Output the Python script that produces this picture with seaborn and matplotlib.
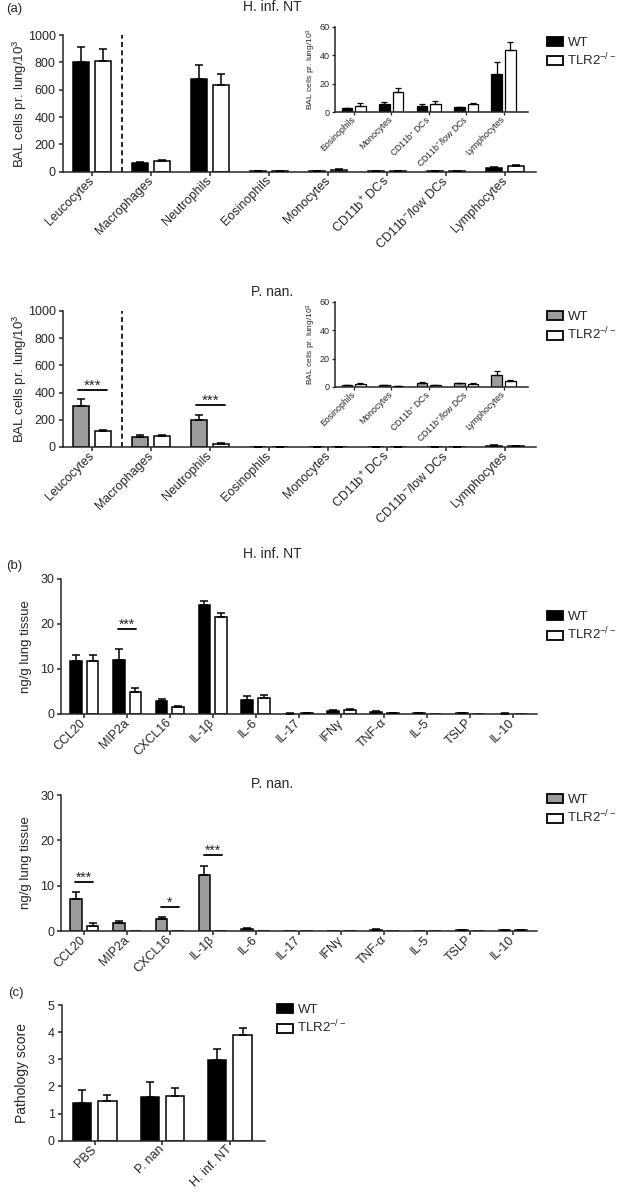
import numpy as np
import pandas as pd
import matplotlib
matplotlib.use('Agg')
import matplotlib.pyplot as plt
import seaborn as sns
from matplotlib.patches import Patch

sns.set_style('ticks')
plt.rcParams['font.family'] = ['Liberation Sans', 'DejaVu Sans']
plt.rcParams['mathtext.fontset'] = 'custom'
plt.rcParams['mathtext.rm'] = 'Liberation Sans'
plt.rcParams['mathtext.it'] = 'Liberation Sans:italic'
plt.rcParams['mathtext.bf'] = 'Liberation Sans:bold'
plt.rcParams['axes.linewidth'] = 1.1

# ---------------- data ----------------
bal_cells = ['Leucocytes', 'Macrophages', 'Neutrophils', 'Eosinophils', 'Monocytes',
             'CD11b$^{+}$ DCs', 'CD11b$^{-}$/low DCs', 'Lymphocytes']
hinf_bal_wt = [805, 65, 680, 2.5, 6.0, 4.5, 3.2, 27.0]
hinf_bal_wt_sem = [110, 7, 100, 0.5, 0.8, 1.0, 0.5, 8.5]
hinf_bal_ko = [810, 80, 635, 4.5, 14.0, 6.0, 5.4, 43.5]
hinf_bal_ko_sem = [88, 8, 80, 2.2, 2.8, 2.0, 0.7, 6.0]
pnan_bal_wt = [305, 75, 200, 1.2, 1.4, 2.8, 2.6, 8.4]
pnan_bal_wt_sem = [47, 10, 37, 0.3, 0.3, 0.6, 0.4, 3.0]
pnan_bal_ko = [120, 78, 25, 2.1, 0.7, 1.2, 2.3, 4.2]
pnan_bal_ko_sem = [8, 9, 6, 0.6, 0.2, 0.2, 0.5, 0.7]

cytokines = ['CCL20', 'MIP2a', 'CXCL16', 'IL-1β', 'IL-6', 'IL-17', 'IFNγ', 'TNF-α',
             'IL-5', 'TSLP', 'IL-10']
hinf_cyt_wt = [11.7, 12.1, 2.8, 24.3, 3.2, 0.1, 0.7, 0.5, 0.15, 0.15, 0.1]
hinf_cyt_wt_sem = [1.4, 2.4, 0.5, 0.8, 0.8, 0.05, 0.2, 0.15, 0.05, 0.05, 0.05]
hinf_cyt_ko = [11.8, 5.0, 1.5, 21.5, 3.6, 0.2, 1.0, 0.25, 0.03, 0.03, 0.05]
hinf_cyt_ko_sem = [1.3, 0.8, 0.3, 0.9, 0.6, 0.05, 0.2, 0.05, 0, 0, 0]
pnan_cyt_wt = [7.0, 1.8, 2.7, 12.4, 0.5, 0.1, 0.05, 0.3, 0.05, 0.2, 0.15]
pnan_cyt_wt_sem = [1.5, 0.3, 0.3, 2.0, 0.1, 0, 0, 0.1, 0, 0.05, 0.05]
pnan_cyt_ko = [1.2, 0, 0, 0, 0.05, 0, 0, 0, 0, 0, 0.2]
pnan_cyt_ko_sem = [0.6, 0, 0, 0, 0, 0, 0, 0, 0, 0, 0.05]

groups = ['PBS', 'P. nan', 'H. inf. NT']
path_wt = [1.40, 1.60, 2.97]
path_wt_sem = [0.46, 0.56, 0.42]
path_ko = [1.46, 1.66, 3.89]
path_ko_sem = [0.22, 0.27, 0.27]

genotypes = ['WT', 'TLR2']
legend_labels = ['WT', 'TLR2$^{-/-}$']
GRAY = '#9c9c9c'

# ---------------- layout ----------------
W, H = 620, 1197
fig = plt.figure(figsize=(W / 100, H / 100), dpi=100)


def add_ax(l, t, r, b):
    return fig.add_axes([l / W, 1 - b / H, (r - l) / W, (b - t) / H])


def bar_panel(ax, cats, wt, wt_e, ko, ko_e, wt_color, width, gap, lw=1.1, cap=3.2):
    df = pd.DataFrame({'cat': list(cats) * 2,
                       'geno': ['WT'] * len(cats) + ['TLR2'] * len(cats),
                       'val': list(wt) + list(ko)})
    sns.barplot(data=df, x='cat', y='val', hue='geno', order=list(cats), hue_order=genotypes,
                palette={'WT': wt_color, 'TLR2': 'white'}, edgecolor='black', linewidth=lw,
                width=width, gap=gap, errorbar=None, legend=False, saturation=1, ax=ax)
    conts = list(ax.containers[:2])
    for cont, errs in zip(conts, [wt_e, ko_e]):
        for bar, e in zip(cont, errs):
            if e > 0:
                x = bar.get_x() + bar.get_width() / 2
                ax.errorbar([x], [bar.get_height()], yerr=[[0], [e]], fmt='none',
                            ecolor='black', elinewidth=lw, capsize=cap, capthick=lw, zorder=3)
    ax.set_xlabel('')
    ax.set_ylabel('')
    sns.despine(ax=ax)


def style_ax(ax, fs=9, xfs=9, rot=45, length=3, width=1.1, pad=2):
    ax.tick_params(axis='both', direction='out', length=length, width=width, pad=pad)
    ax.tick_params(axis='y', labelsize=fs)
    ax.tick_params(axis='x', labelsize=xfs)
    for lab in ax.get_xticklabels():
        lab.set_rotation(rot)
        lab.set_ha('right')
        lab.set_va('center')
        lab.set_rotation_mode('anchor')


def sig(ax, x, y, s, half=0.22, fs=11):
    ax.plot([x - half, x + half], [y, y], color='black', lw=1.3)
    ax.text(x, y, s, ha='center', va='baseline', fontsize=fs)


def legend(x, y, color, fs=9.5):
    handles = [Patch(facecolor=color, edgecolor='black', linewidth=1.3),
               Patch(facecolor='white', edgecolor='black', linewidth=1.3)]
    fig.legend(handles=handles, labels=legend_labels, loc='center left',
               bbox_to_anchor=(x / W, 1 - y / H), frameon=False, fontsize=fs,
               handlelength=1.2, handleheight=0.7, handletextpad=0.35,
               labelspacing=0.2, borderpad=0, borderaxespad=0)


def ylab(ax, text, x_px, l, r, fs=10):
    ax.set_ylabel(text, fontsize=fs)
    ax.yaxis.set_label_coords((x_px - l) / (r - l), 0.5)


# ---- (a) BAL cells ----
for (t, b, it, ib, wt, wte, ko, koe, col, title, ty) in [
        (35, 171.7, 27, 112, hinf_bal_wt, hinf_bal_wt_sem, hinf_bal_ko, hinf_bal_ko_sem, 'black', 'H. inf. NT', 7),
        (311, 447, 302, 387, pnan_bal_wt, pnan_bal_wt_sem, pnan_bal_ko, pnan_bal_ko_sem, GRAY, 'P. nan.', 292)]:
    ax = add_ax(62.7, t, 536, b)
    bar_panel(ax, bal_cells, wt, wte, ko, koe, col, width=0.74, gap=0.27)
    ax.set_ylim(0, 1000)
    ax.set_yticks([0, 200, 400, 600, 800, 1000])
    ax.set_xlim(-0.5, 7.525)
    ax.plot([0.5, 0.5], [0, 1000], color='black', lw=1.2, ls=(0, (3, 2)), clip_on=False)
    style_ax(ax)
    ylab(ax, 'BAL cells pr. lung/10$^{3}$', 29, 62.7, 536, fs=9.5)
    if col == GRAY:
        sig(ax, 0, 420, '***', half=0.245)
        sig(ax, 2, 310, '***', half=0.245)
    fig.text(272 / W, 1 - ty / H, title, ha='center', va='center', fontsize=10)
    legend(547, (t + 17.5) if col == 'black' else (t + 16), col)

    # inset
    iax = add_ax(335, it, 528, ib)
    sub = slice(3, 8)
    bar_panel(iax, bal_cells[sub], wt[sub], wte[sub], ko[sub], koe[sub], col,
              width=0.72, gap=0.2, lw=0.9, cap=2.2)
    iax.set_ylim(0, 60)
    iax.set_yticks([0, 20, 40, 60])
    iax.set_xlim(-0.5, 4.65)
    iax.patch.set_alpha(0)
    style_ax(iax, fs=6.5, xfs=6.3, length=2.5, width=0.9, pad=1.5)
    ylab(iax, 'BAL cells pr. lung/10$^{3}$', 318, 335, 528, fs=6)

fig.text(6 / W, 1 - 9 / H, '(a)', ha='left', va='center', fontsize=9.5)

# ---- (b) cytokines ----
for (t, b, wt, wte, ko, koe, col, title, ty, ly) in [
        (579, 714, hinf_cyt_wt, hinf_cyt_wt_sem, hinf_cyt_ko, hinf_cyt_ko_sem, 'black', 'H. inf. NT', 554, 627),
        (795, 931, pnan_cyt_wt, pnan_cyt_wt_sem, pnan_cyt_ko, pnan_cyt_ko_sem, GRAY, 'P. nan.', 784, 810)]:
    ax = add_ax(61, t, 537, b)
    bar_panel(ax, cytokines, wt, wte, ko, koe, col, width=0.78, gap=0.3)
    ax.set_ylim(0, 30)
    ax.set_yticks([0, 10, 20, 30])
    ax.set_xlim(-0.54, 10.56)
    style_ax(ax)
    ylab(ax, 'ng/g lung tissue', 32, 61, 537, fs=9.5)
    fig.text(272 / W, 1 - ty / H, title, ha='center', va='center', fontsize=10)
    legend(547, ly, col)
    if col == 'black':
        sig(ax, 1, 18.9, '***', half=0.21, fs=10)
    else:
        sig(ax, 0, 10.8, '***', half=0.21, fs=10)
        sig(ax, 2, 5.3, '*', half=0.21, fs=10)
        sig(ax, 3, 16.8, '***', half=0.21, fs=10)

fig.text(6 / W, 1 - 566 / H, '(b)', ha='left', va='center', fontsize=9.5)

# ---- (c) pathology ----
ax = add_ax(61.7, 1005, 265, 1140.7)
bar_panel(ax, groups, path_wt, path_wt_sem, path_ko, path_ko_sem, 'black', width=0.75, gap=0.28)
ax.set_ylim(0, 5)
ax.set_yticks([0, 1, 2, 3, 4, 5])
ax.set_xlim(-0.49, 2.52)
style_ax(ax)
ylab(ax, 'Pathology score', 29, 61.7, 265)
legend(277, 1020, 'black')
fig.text(8 / W, 1 - 993 / H, '(c)', ha='left', va='center', fontsize=9.5)

fig.savefig('out.png', dpi=100)
